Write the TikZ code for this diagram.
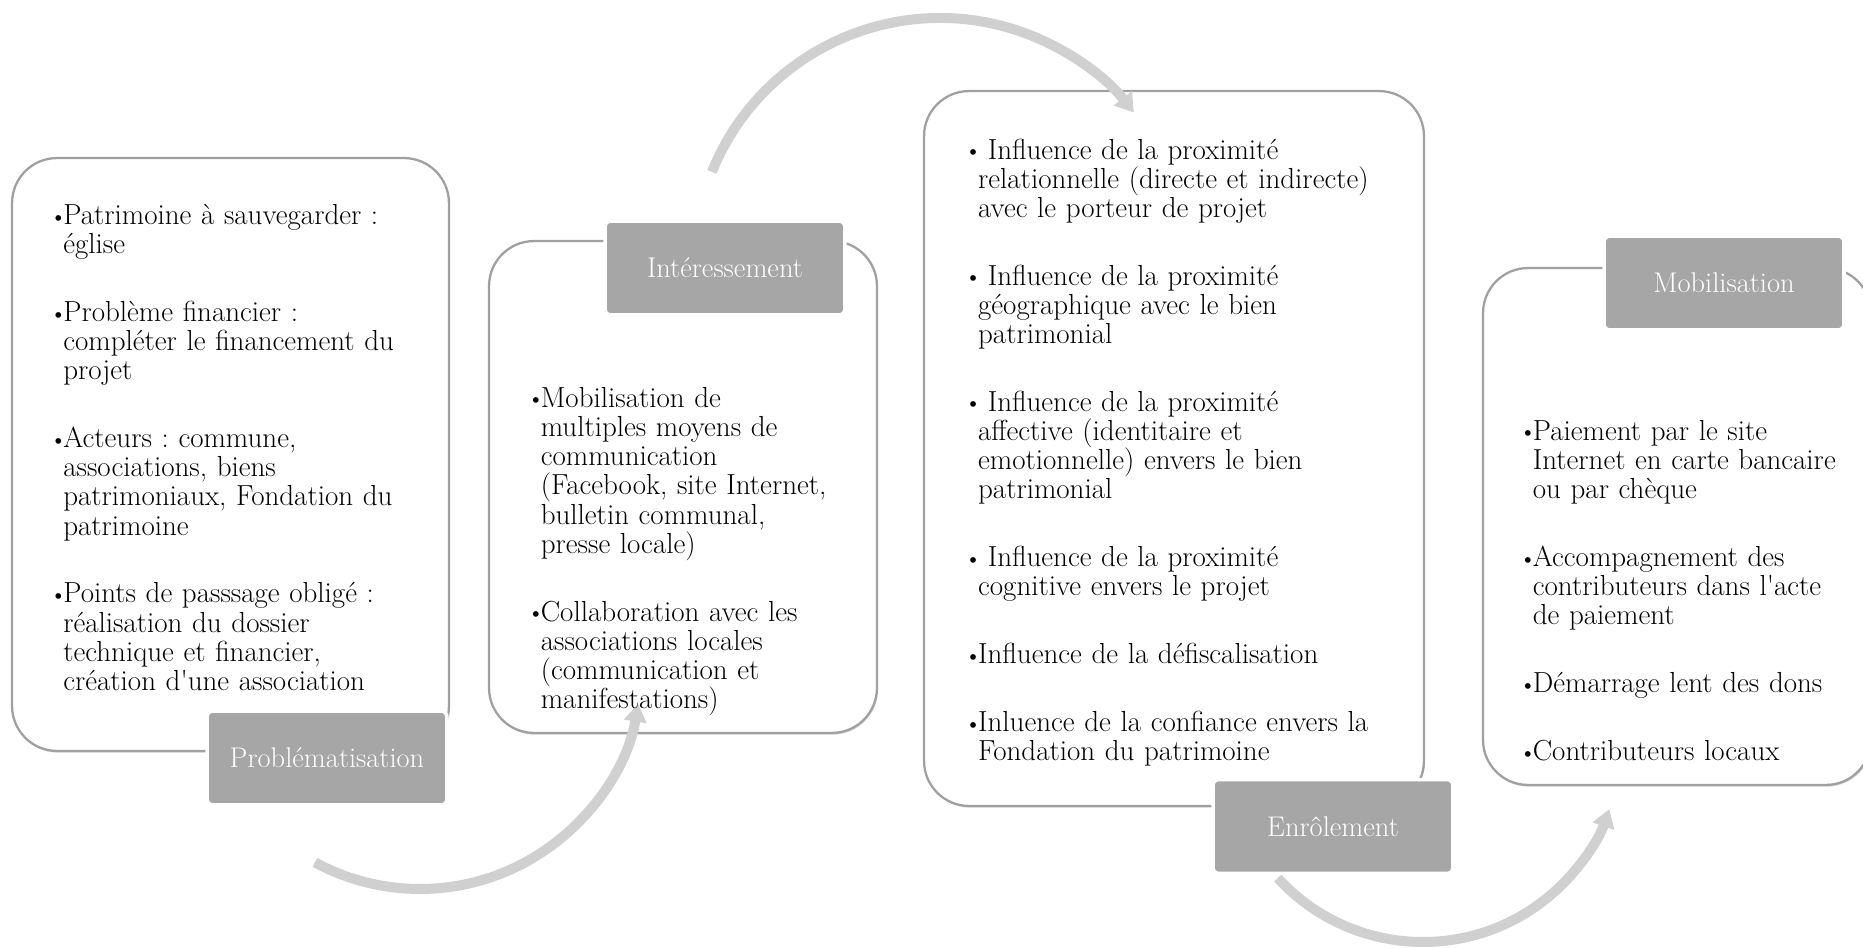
\documentclass[tikz,border=0pt]{standalone}
\usetikzlibrary{arrows.meta,shadows,calc}

\definecolor{edgegray}{RGB}{160,160,160}
\definecolor{taggray}{RGB}{166,166,166}
\definecolor{flowgray}{RGB}{208,208,208}

\newlength{\bulw}\setlength{\bulw}{0.26cm}
\newcommand{\itm}[1]{\hangindent=\bulw\hangafter=1\noindent\makebox[\bulw][l]{\raisebox{0.12ex}{\fontsize{12}{12}\selectfont\textbullet}}#1\par}
\newcommand{\nextl}{\newline}

\begin{document}
\frenchspacing
\begin{tikzpicture}[
  x=0.02cm, y=0.02cm,
  stage/.style={draw=edgegray, line width=1.3pt, fill=white, rounded corners=0.9cm,
                inner sep=0pt,
                drop shadow={shadow xshift=0.5pt, shadow yshift=-1pt, fill=black!30}},
  tag/.style={fill=taggray, draw=white, line width=2pt, rounded corners=0.12cm,
              minimum width=4.8cm, minimum height=1.88cm, inner sep=0pt,
              text=white, font=\fontsize{16.2}{18}\selectfont},
  items/.style={anchor=north west, inner sep=0pt, text width=9.8cm, align=left,
                font=\fontsize{16.5}{16.6}\selectfont,
                execute at begin node={\setlength{\parskip}{22pt}\frenchspacing}},
  flow/.style={draw=flowgray, line width=0.2cm, -{Triangle[width=0.44cm,length=0.36cm]}}
]
\useasboundingbox (0,0) rectangle (1863,947);
\clip (0,0) rectangle (1863,947);

% stage frames
\node[stage, minimum width=8.74cm, minimum height=11.86cm] (prob)  at (230.5,492.5) {};
\node[stage, minimum width=7.76cm, minimum height=9.84cm]  (inter) at (683,460) {};
\node[stage, minimum width=10cm,   minimum height=14.3cm]  (enrol) at (1174,498.5) {};
\node[stage, minimum width=7.76cm, minimum height=10.34cm] (mobil) at (1677,420.5) {};

% stage names
\node[tag] (probtag)  at (327,189)   {Problématisation};
\node[tag] (intertag) at (725,679)   {Intéressement};
\node[tag] (enroltag) at (1333,120.5) {Enrôlement};
\node[tag] (mobiltag) at (1724,664)  {Mobilisation};

% curved arrows between stages
\coordinate (flowa) at ($(420,279)+(241.6:221)$);
\coordinate (flowb) at ($(940,683)+(158:246)$);
\coordinate (flowc) at ($(1423,202)+(222.5:197)$);
\draw[flow] (flowa) arc[start angle=241.6, end angle=350.7, radius=221];
\draw[flow] (flowb) arc[start angle=158, end angle=38, radius=246];
\draw[flow] (flowc) arc[start angle=222.5, end angle=341, radius=197];

% ---- problematisation
\node[items] (probtxt) at (50,743) {%
  \itm{Patrimoine à sauvegarder :\nextl église}
  \itm{Problème financier :\nextl compléter le financement du\nextl projet}
  \itm{Acteurs : commune,\nextl associations, biens\nextl patrimoniaux, Fondation du\nextl patrimoine}
  \itm{Points de passsage obligé :\nextl réalisation du dossier\nextl technique et financier,\nextl création d\textquotesingle une association}};

% ---- interessement
\node[items] (intertxt) at (527.5,560) {%
  \itm{Mobilisation de\nextl multiples moyens de\nextl communication\nextl (Facebook, site Internet,\nextl bulletin communal,\nextl presse locale)}
  \itm{Collaboration avec les\nextl associations locales\nextl (communication et\nextl manifestations)}};

% ---- enrolement
\node[items] (enroltxt) at (964.8,808.5) {%
  \itm{\ Influence de la proximité\nextl relationnelle (directe et indirecte)\nextl avec le porteur de projet}
  \itm{\ Influence de la proximité\nextl géographique avec le bien\nextl patrimonial}
  \itm{\ Influence de la proximité\nextl affective (identitaire et\nextl emotionnelle) envers le bien\nextl patrimonial}
  \itm{\ Influence de la proximité\nextl cognitive envers le projet}
  \itm{Influence de la défiscalisation}
  \itm{Inluence de la confiance envers la\nextl Fondation du patrimoine}};

% ---- mobilisation
\node[items] (mobiltxt) at (1519.5,527) {%
  \itm{Paiement par le site\nextl Internet en carte bancaire\nextl ou par chèque}
  \itm{Accompagnement des\nextl contributeurs dans l\textquotesingle acte\nextl de paiement}
  \itm{Démarrage lent des dons}
  \itm{Contributeurs locaux}};
\end{tikzpicture}
\end{document}
